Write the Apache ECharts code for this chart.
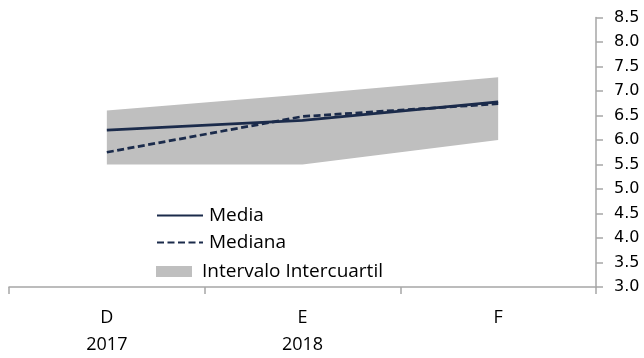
<!DOCTYPE html>
<html>
<head>
<meta charset="utf-8">
<script src="https://cdn.jsdelivr.net/npm/echarts@6/dist/echarts.min.js"></script>
<style>
  html, body { margin: 0; padding: 0; background: #ffffff; }
  #chart { width: 644px; height: 358px; }
</style>
</head>
<body>
<div id="chart"></div>
<script>
// Categories and their year sub-labels
const categories = ['D', 'E', 'F'];
const years = ['2017', '2018', ''];

// Series values
const media = [6.2, 6.4, 6.78];
const mediana = [5.75, 6.48, 6.74];
const cuartilInferior = [5.5, 5.5, 6.0];
const cuartilSuperior = [6.6, 6.93, 7.28];

// Y axis range
const yMin = 3.0;
const yMax = 8.5;
const yStep = 0.5;

// Band thickness stacked on top of the lower quartile
const anchoIntervalo = cuartilSuperior.map((v, i) => +(v - cuartilInferior[i]).toFixed(3));

const axisGray = '#a6a6a6';
const navy = '#1b2b4b';
const band = '#bfbfbf';

const chart = echarts.init(document.getElementById('chart'), null, { renderer: 'canvas' });

chart.setOption({
  animation: false,
  backgroundColor: '#ffffff',
  grid: { left: 9, right: 48, top: 17.5, bottom: 60, containLabel: false },
  xAxis: {
    type: 'category',
    data: categories,
    boundaryGap: true,
    axisLine: { show: true, lineStyle: { color: axisGray, width: 1.5 } },
    axisTick: { show: true, inside: false, length: 7, alignWithLabel: false, lineStyle: { color: axisGray, width: 1.5 } },
    axisLabel: {
      margin: 17,
      fontFamily: 'Open Sans',
      fontSize: 18,
      color: '#000000',
      lineHeight: 27,
      formatter: (v, i) => years[i] ? v + '\n' + years[i] : v
    },
    splitLine: { show: false }
  },
  yAxis: {
    type: 'value',
    position: 'right',
    min: yMin,
    max: yMax,
    interval: yStep,
    axisLine: { show: true, lineStyle: { color: axisGray, width: 1.5 } },
    axisTick: { show: true, inside: false, length: 7, lineStyle: { color: axisGray, width: 1.5 } },
    axisLabel: {
      margin: 18,
      fontFamily: 'DejaVu Sans',
      fontSize: 16,
      color: '#000000',
      formatter: v => v.toFixed(1)
    },
    splitLine: { show: false }
  },
  legend: [
    {
      data: ['Media', 'Mediana'],
      orient: 'vertical',
      left: 151,
      top: 201,
      itemWidth: 46,
      itemHeight: 14,
      itemGap: 8,
      itemStyle: { opacity: 0 },
      textStyle: { fontFamily: 'Open Sans', fontSize: 19, color: '#000000', lineHeight: 19, padding: [0, 0, 0, 1] }
    },
    {
      data: [{ name: 'Intervalo Intercuartil', icon: 'rect', itemStyle: { color: band } }],
      orient: 'vertical',
      left: 151,
      top: 257,
      itemWidth: 36,
      itemHeight: 11,
      textStyle: { fontFamily: 'Open Sans', fontSize: 19, color: '#000000', lineHeight: 19, padding: [0, 0, 0, 5] }
    }
  ],
  series: [
    {
      name: 'base',
      type: 'line',
      stack: 'intervalo',
      data: cuartilInferior,
      symbol: 'none',
      lineStyle: { opacity: 0 },
      silent: true
    },
    {
      name: 'Intervalo Intercuartil',
      type: 'line',
      stack: 'intervalo',
      data: anchoIntervalo,
      symbol: 'none',
      lineStyle: { opacity: 0 },
      itemStyle: { color: band },
      areaStyle: { color: band, opacity: 1 }
    },
    {
      name: 'Media',
      type: 'line',
      data: media,
      symbol: 'none',
      itemStyle: { color: navy },
      lineStyle: { color: navy, width: 2.75, type: 'solid' }
    },
    {
      name: 'Mediana',
      type: 'line',
      data: mediana,
      symbol: 'none',
      itemStyle: { color: navy },
      lineStyle: { color: navy, width: 2.75, type: [7, 3.5] }
    }
  ]
});
</script>
</body>
</html>
